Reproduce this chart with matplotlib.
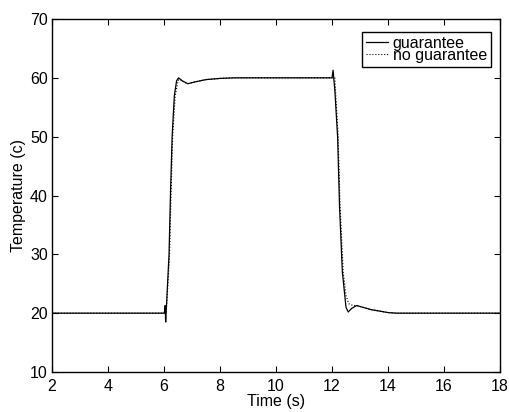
import matplotlib
matplotlib.use("Agg")
import matplotlib.pyplot as plt

plt.rcParams['font.family'] = ['Liberation Sans', 'DejaVu Sans']

# Data
t_guar = [2.0, 6.0, 6.02, 6.04, 6.06, 6.08, 6.18, 6.23, 6.29, 6.37, 6.45, 6.52, 6.65,
          6.85, 7.1, 7.5, 8.0, 8.5, 12.0, 12.04, 12.07, 12.1, 12.2, 12.27, 12.37, 12.5,
          12.58, 12.7, 12.88, 13.1, 13.4, 13.64, 14.0, 14.3, 18.0]
y_guar = [20.0, 20.0, 20.3, 21.3, 18.5, 20.5, 30.0, 40.0, 50.0, 57.0, 59.5, 60.0, 59.5,
          59.0, 59.3, 59.7, 59.9, 60.0, 60.0, 61.3, 59.5, 58.0, 50.0, 38.0, 27.0, 21.0,
          20.2, 20.8, 21.3, 21.0, 20.6, 20.4, 20.1, 20.0, 20.0]

t_noguar = [2.0, 6.08, 6.2, 6.25, 6.31, 6.4, 6.5, 6.55, 6.7, 6.85, 7.1, 7.5, 8.0, 8.5,
            12.1, 12.22, 12.29, 12.4, 12.5, 12.6, 12.75, 12.9, 13.1, 13.4, 13.64, 14.0,
            14.3, 18.0]
y_noguar = [20.0, 20.0, 30.0, 40.0, 50.0, 57.0, 59.5, 59.8, 59.3, 59.0, 59.3, 59.7, 59.9,
            60.0, 60.0, 50.0, 38.0, 27.0, 23.0, 21.6, 21.3, 21.3, 21.0, 20.6, 20.4, 20.1,
            20.0, 20.0]

xticks = [2, 4, 6, 8, 10, 12, 14, 16, 18]
yticks = [10, 20, 30, 40, 50, 60, 70]

fig = plt.figure(figsize=(5.10, 4.12), dpi=100)
ax = fig.add_axes([52/510, 1 - 372/412, 448/510, 353/412])

ax.plot(t_guar, y_guar, color='black', lw=0.9, ls='-', label='guarantee')
ax.plot(t_noguar, y_noguar, color='black', lw=0.8, ls=':', label='no guarantee')

ax.set_xlim(2, 18)
ax.set_ylim(10, 70)
ax.set_xticks(xticks)
ax.set_yticks(yticks)
ax.tick_params(direction='in', top=True, right=True, length=4, width=0.8,
               labelsize=11.5, pad=3)
ax.tick_params(axis='x', pad=5)
for s in ax.spines.values():
    s.set_linewidth(1.0)

ax.set_xlabel('Time (s)', fontsize=11.5, labelpad=0)
ax.set_ylabel('Temperature (c)', fontsize=11.5, labelpad=3)

leg = ax.legend(loc='upper right', bbox_to_anchor=(0.98, 0.963), fancybox=False,
                edgecolor='black', framealpha=1, fontsize=11.5, labelspacing=-0.2,
                handlelength=1.4, handletextpad=0.3, borderpad=0.25,
                borderaxespad=0)
leg.get_frame().set_linewidth(1.0)

fig.savefig('out.png', dpi=100)
